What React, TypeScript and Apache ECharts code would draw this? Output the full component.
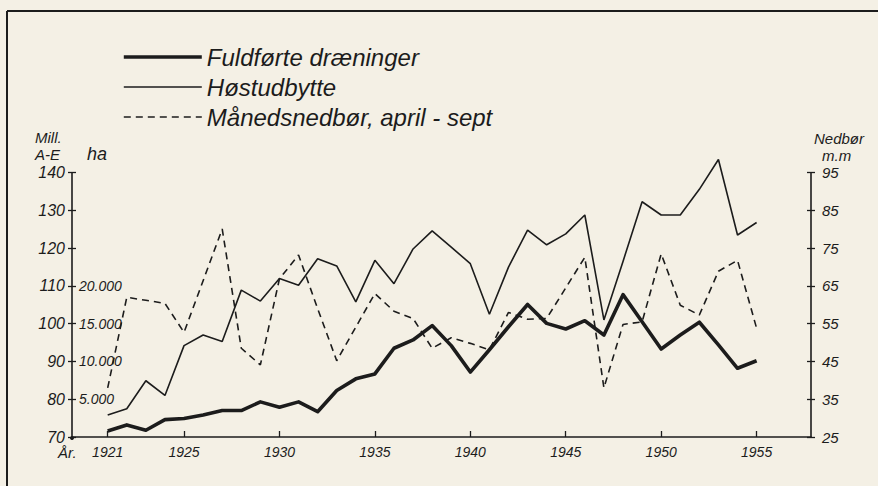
import React, { useEffect, useRef } from "react";
import * as echarts from "echarts";

const years = [1921, 1922, 1923, 1924, 1925, 1926, 1927, 1928, 1929, 1930, 1931, 1932, 1933, 1934, 1935, 1936, 1937, 1938, 1939, 1940, 1941, 1942, 1943, 1944, 1945, 1946, 1947, 1948, 1949, 1950, 1951, 1952, 1953, 1954, 1955];

// Fuldførte dræninger (ha)
const drainageHa = [800, 1600, 900, 2300, 2450, 2900, 3500, 3500, 4650, 3950, 4650, 3350, 6150, 7700, 8350, 11750, 12850, 14750, 12100, 8600, 11550, 14600, 17550, 15050, 14300, 15400, 13500, 18850, 15250, 11650, 13500, 15200, 12200, 9100, 10100];

// Høstudbytte (Mill. A-E)
const harvest = [75.8, 77.5, 84.9, 81.0, 94.2, 97.0, 95.3, 108.9, 106.0, 112.0, 110.2, 117.2, 115.3, 105.8, 116.8, 110.6, 119.8, 124.6, 120.3, 115.9, 102.5, 115.0, 124.8, 120.9, 123.8, 128.8, 101.0, 116.5, 132.3, 128.8, 128.8, 135.6, 143.5, 123.5, 126.8];

// Månedsnedbør april-sept (mm)
const precip = [38, 62, 61.2, 60.4, 52.7, 66.4, 80.1, 48.5, 44.1, 66.9, 73.2, 59, 45.2, 54.1, 63, 58.3, 56.4, 48.5, 51.3, 49.8, 48.1, 58, 56.2, 56.4, 64.5, 72.6, 38, 54.8, 55.5, 73.5, 59.9, 57.3, 68.9, 71.8, 53.8];

const xTickYears = [1921, 1925, 1930, 1935, 1940, 1945, 1950, 1955];
const haLabels = [5000, 10000, 15000, 20000];

const seriesNames = ["Fuldførte dræninger", "Høstudbytte", "Månedsnedbør, april - sept"];

const INK = "#1c1c1c";
const FONT = "'Liberation Sans', 'DejaVu Sans', sans-serif";

const W_THICK = 3.6;
const W_THIN = 1.6;
const DASH = [7, 5];

export default function App() {
  const ref = useRef<HTMLDivElement>(null);

  useEffect(() => {
    if (!ref.current) return;
    const chart = echarts.init(ref.current, undefined, { renderer: "svg" });
    const pair = (arr: number[]) => years.map((y, i) => [y, arr[i]]);
    const axisText = { fontFamily: FONT, fontStyle: "italic" as const, color: INK };

    chart.setOption({
      animation: false,
      backgroundColor: "#f4f0e5",
      grid: { left: 72, right: 67, top: 172.7, bottom: 49, containLabel: false },
      legend: {
        orient: "vertical",
        left: 117,
        top: 40,
        itemWidth: 78,
        itemHeight: 12,
        itemGap: 6,
        selectedMode: false,
        textStyle: { ...axisText, fontSize: 24, lineHeight: 24 },
        data: [
          { name: seriesNames[0], itemStyle: { opacity: 0 }, lineStyle: { width: W_THICK, color: INK } },
          { name: seriesNames[1], itemStyle: { opacity: 0 }, lineStyle: { width: W_THIN, color: INK } },
          { name: seriesNames[2], itemStyle: { opacity: 0 }, lineStyle: { width: W_THIN, color: INK, type: DASH } },
        ],
      },
      xAxis: {
        type: "value",
        min: 1919.13,
        max: 1957.85,
        splitLine: { show: false },
        axisLine: { show: true, lineStyle: { color: INK, width: 1.6 } },
        axisTick: { show: true, inside: true, length: 6, customValues: xTickYears, lineStyle: { color: INK, width: 1.3 } },
        axisLabel: { ...axisText, fontSize: 14, margin: 8, customValues: xTickYears, formatter: (v: number) => String(v) },
      },
      yAxis: [
        {
          type: "value",
          min: 70,
          max: 140,
          interval: 10,
          position: "left",
          splitLine: { show: false },
          axisLine: { show: true, lineStyle: { color: INK, width: 1.6 } },
          axisTick: { show: true, length: 4, lineStyle: { color: INK, width: 1.3 } },
          axisLabel: { ...axisText, fontSize: 16, margin: 7 },
        },
        {
          type: "value",
          min: 0,
          max: 35000,
          interval: 5000,
          position: "left",
          splitLine: { show: false },
          axisLine: { show: false },
          axisTick: { show: true, inside: true, length: 4, lineStyle: { color: INK, width: 1.3 } },
          axisLabel: {
            ...axisText,
            fontSize: 14,
            inside: true,
            margin: 7,
            formatter: (v: number) => (haLabels.indexOf(v) >= 0 ? (v / 1000).toFixed(0) + ".000" : ""),
          },
        },
        {
          type: "value",
          min: 25,
          max: 95,
          interval: 10,
          position: "right",
          splitLine: { show: false },
          axisLine: { show: true, lineStyle: { color: INK, width: 1.6 } },
          axisTick: { show: true, length: 4, lineStyle: { color: INK, width: 1.3 } },
          axisLabel: { ...axisText, fontSize: 15, margin: 11 },
        },
        {
          type: "value",
          min: 25,
          max: 95,
          interval: 10,
          position: "right",
          splitLine: { show: false },
          axisLine: { show: false },
          axisTick: { show: true, inside: true, length: 4, lineStyle: { color: INK, width: 1.3 } },
          axisLabel: { show: false },
        },
      ],
      series: [
        {
          name: seriesNames[0],
          type: "line",
          yAxisIndex: 1,
          data: pair(drainageHa),
          symbol: "none",
          clip: false,
          lineStyle: { color: INK, width: W_THICK, join: "round" },
          itemStyle: { color: INK },
        },
        {
          name: seriesNames[1],
          type: "line",
          yAxisIndex: 0,
          data: pair(harvest),
          symbol: "none",
          clip: false,
          lineStyle: { color: INK, width: W_THIN },
          itemStyle: { color: INK },
        },
        {
          name: seriesNames[2],
          type: "line",
          yAxisIndex: 2,
          data: pair(precip),
          symbol: "none",
          clip: false,
          lineStyle: { color: INK, width: W_THIN, type: DASH },
          itemStyle: { color: INK },
        },
      ],
      graphic: [
        { type: "line", shape: { x1: 7, y1: 11, x2: 878, y2: 11 }, style: { stroke: INK, lineWidth: 2 } },
        { type: "line", shape: { x1: 7, y1: 11, x2: 7, y2: 486 }, style: { stroke: INK, lineWidth: 2 } },
        { type: "text", x: 35, y: 137, style: { text: "Mill.", font: `italic 15px ${FONT}`, fill: INK, textVerticalAlign: "middle" } },
        { type: "text", x: 35, y: 154, style: { text: "A-E", font: `italic 15px ${FONT}`, fill: INK, textVerticalAlign: "middle" } },
        { type: "text", x: 87, y: 154, style: { text: "ha", font: `italic 18px ${FONT}`, fill: INK, textVerticalAlign: "middle" } },
        { type: "text", x: 814, y: 138, style: { text: "Nedbør", font: `italic 15px ${FONT}`, fill: INK, textVerticalAlign: "middle" } },
        { type: "text", x: 822, y: 155, style: { text: "m.m", font: `italic 15px ${FONT}`, fill: INK, textVerticalAlign: "middle" } },
        { type: "text", x: 58, y: 452, style: { text: "År.", font: `italic 15px ${FONT}`, fill: INK, textVerticalAlign: "middle" } },
        { type: "circle", shape: { cx: 72, cy: 438, r: 2 }, style: { fill: INK } },
      ],
    });
    return () => chart.dispose();
  }, []);

  return <div ref={ref} style={{ position: "absolute", left: 0, top: 0, width: 878, height: 486 }} />;
}
